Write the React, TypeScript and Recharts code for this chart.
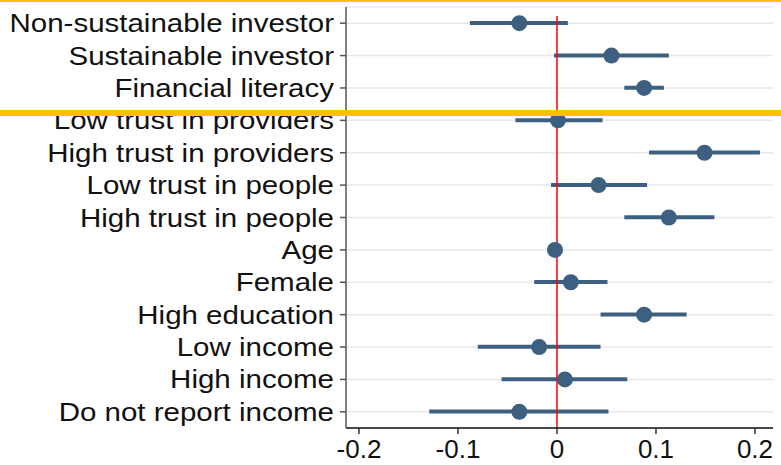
import React from "react";
import {
  Bar,
  CartesianGrid,
  ComposedChart,
  Line,
  ReferenceLine,
  XAxis,
  YAxis,
} from "recharts";

const W = 781;
const H = 465;

// Regressors, top to bottom
const labels = [
  "Non-sustainable investor",
  "Sustainable investor",
  "Financial literacy",
  "Low trust in providers",
  "High trust in providers",
  "Low trust in people",
  "High trust in people",
  "Age",
  "Female",
  "High education",
  "Low income",
  "High income",
  "Do not report income",
];

// Point estimates and 95% confidence bounds
const coef = [-0.038, 0.055, 0.088, 0.001, 0.149, 0.042, 0.113, -0.002, 0.014, 0.088, -0.018, 0.008, -0.038];
const lower = [-0.088, -0.003, 0.068, -0.042, 0.093, -0.006, 0.068, -0.004, -0.023, 0.044, -0.08, -0.056, -0.129];
const upper = [0.011, 0.113, 0.108, 0.046, 0.205, 0.091, 0.159, 0.0, 0.051, 0.131, 0.044, 0.071, 0.052];

const xTicks = [-0.2, -0.1, 0, 0.1, 0.2];

const BLUE = "#3e6080";
const GOLD = "#ffc000";
const FONT = "'Liberation Sans', Arial, Helvetica, sans-serif";
const LABEL_STRETCH = 1.18;

const fmtTick = (v: number) => (v === 0 ? "0" : v.toFixed(1));

const YTick = (p: any) => (
  <g transform={`translate(${p.x},${p.y}) scale(${LABEL_STRETCH},1)`}>
    <text x={0} y={0} dy="0.36em" textAnchor="end" fontSize={25} fill="#111" fontFamily={FONT}>
      {p.payload.value}
    </text>
  </g>
);

const XTick = (p: any) => (
  <text x={p.x} y={p.y} dy={22} textAnchor="middle" fontSize={26} fill="#111" fontFamily={FONT}>
    {fmtTick(p.payload.value)}
  </text>
);

// zero line starts a little below the top of the plot
const ZeroLine = (p: any) => {
  const top = Math.min(p.y1, p.y2);
  const bottom = Math.max(p.y1, p.y2);
  return <line x1={p.x1} x2={p.x2} y1={top + 9} y2={bottom} stroke="#ff0000" strokeWidth={1.5} />;
};

export default function App() {
  const data = labels.map((label, i) => ({
    label,
    coef: coef[i],
    ci: [lower[i], upper[i]],
  }));

  return (
    <div style={{ position: "absolute", left: 0, top: 0, width: W, height: H, background: "#fff" }}>
      <ComposedChart
        width={W}
        height={H}
        layout="vertical"
        data={data}
        margin={{ top: 7, right: 8, bottom: 0, left: 0 }}
      >
        <CartesianGrid vertical={false} stroke="#e8e8e8" strokeWidth={1.5} />
        <XAxis
          type="number"
          domain={[-0.2131, 0.2182]}
          ticks={xTicks}
          allowDataOverflow
          height={37}
          axisLine={{ stroke: "#111", strokeWidth: 1.5 }}
          tickLine={{ stroke: "#333", strokeWidth: 1.5 }}
          tickSize={6}
          tick={<XTick />}
        />
        <YAxis
          type="category"
          dataKey="label"
          width={346}
          interval={0}
          axisLine={{ stroke: "#555", strokeWidth: 1.5 }}
          tickLine={{ stroke: "#555", strokeWidth: 1.5 }}
          tickSize={6}
          tickMargin={6}
          tick={<YTick />}
        />
        <Bar dataKey="ci" barSize={4} fill={BLUE} isAnimationActive={false} />
        <ReferenceLine x={0} stroke="#ff0000" shape={ZeroLine} />
        <Line
          dataKey="coef"
          stroke="none"
          dot={{ r: 8, fill: BLUE, stroke: "none" }}
          activeDot={false}
          isAnimationActive={false}
        />
      </ComposedChart>
      <div style={{ position: "absolute", left: 0, top: 0, width: W, height: 2, background: GOLD }} />
      <div style={{ position: "absolute", left: 0, top: 110, width: W, height: 6, background: GOLD }} />
    </div>
  );
}
